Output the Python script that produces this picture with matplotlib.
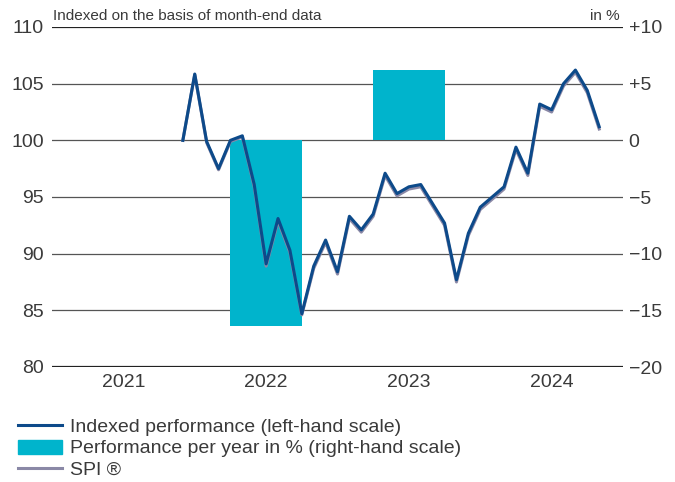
import matplotlib
matplotlib.use("Agg")
import matplotlib.pyplot as plt
from matplotlib.lines import Line2D
from matplotlib.patches import Patch

plt.rcParams['font.family'] = ['Liberation Sans', 'DejaVu Sans']

# month index (0 = start of 2021), month-end values
months = list(range(11, 47))
indexed = [100.0, 105.85, 99.9, 97.5, 100.0, 100.4, 96.1, 89.1, 93.1, 90.3,
           84.7, 88.9, 91.2, 88.4, 93.3, 92.1, 93.5, 97.1, 95.3, 95.9,
           96.1, 94.4, 92.7, 87.7, 91.8, 94.1, 95.0, 95.9, 99.4, 97.1,
           103.2, 102.7, 105.0, 106.2, 104.4, 101.2]
spi = [100.0, 105.8, 99.8, 97.4, 99.9, 100.3, 95.9, 88.9, 92.9, 90.1,
       84.6, 88.7, 91.0, 88.2, 93.1, 91.9, 93.3, 96.9, 95.1, 95.7,
       95.9, 94.2, 92.5, 87.5, 91.6, 93.9, 94.8, 95.7, 99.2, 96.9,
       103.0, 102.5, 104.8, 106.0, 104.2, 101.0]

bar_centers = [18, 30]          # 2022, 2023 (mid-year)
bar_values = [-16.4, 6.2]       # performance per year in %

years = ['2021', '2022', '2023', '2024']
year_pos = [6, 18, 30, 42]

left_ticks = [80, 85, 90, 95, 100, 105, 110]
right_ticks = [-20, -15, -10, -5, 0, 5, 10]
right_labels = ['\u221220', '\u221215', '\u221210', '\u22125', '0', '+5', '+10']

blue = '#0d4a8a'
teal = '#00b4cc'
spi_col = '#8a88a6'
txt = '#3a3a3a'

fig = plt.figure(figsize=(6.75, 4.82), dpi=100)
ax2 = fig.add_axes([52/675, 1-367/482, 571/675, 340/482])
ax = ax2.twinx()

# right axis: bars + grid (drawn underneath)
ax2.set_ylim(-20, 10)
ax2.set_xlim(0, 48)
ax2.bar(bar_centers, bar_values, width=6, color=teal, zorder=2)
for t in right_ticks:
    if t in (-20, 10):
        ax2.axhline(t, color='#222222', lw=1.6, zorder=3)
    else:
        ax2.axhline(t, color='#555555', lw=0.9, zorder=1)
ax2.yaxis.tick_right()
ax2.set_yticks(right_ticks)
ax2.set_yticklabels(right_labels)
ax2.set_xticks(year_pos)
ax2.set_xticklabels(years)
ax2.tick_params(axis='both', length=0, labelsize=14, colors=txt)
ax2.tick_params(axis='y', pad=4)
ax2.tick_params(axis='x', pad=5)
for s in ax2.spines.values():
    s.set_visible(False)

# left axis: indexed line on top
ax.set_zorder(ax2.get_zorder() + 1)
ax.patch.set_visible(False)
ax.set_ylim(80, 110)
ax.set_xlim(0, 48)
ax.plot(months, spi, color=spi_col, lw=2.2, zorder=3)
ax.plot(months, indexed, color=blue, lw=2.2, zorder=4)
ax.yaxis.tick_left()
ax.set_yticks(left_ticks)
ax.tick_params(axis='y', length=0, labelsize=14, colors=txt, pad=6)
for s in ax.spines.values():
    s.set_visible(False)

fig.text(53/675, 1-16/482, 'Indexed on the basis of month-end data', fontsize=11,
         color=txt, va='center', ha='left')
fig.text(620/675, 1-16/482, 'in %', fontsize=11, color=txt, va='center', ha='right')

handles = [Line2D([], [], color=blue, lw=2.2),
           Patch(color=teal),
           Line2D([], [], color=spi_col, lw=2.2)]
labels = ['Indexed performance (left-hand scale)',
          'Performance per year in % (right-hand scale)',
          'SPI \u00ae']
fig.legend(handles, labels, loc='upper left', bbox_to_anchor=(8/675, 1-408/482),
           frameon=False, fontsize=14, handlelength=2.3, handleheight=0.75,
           handletextpad=0.4, labelspacing=0.2, labelcolor=txt, borderpad=0)

fig.savefig('out.png', dpi=100)
